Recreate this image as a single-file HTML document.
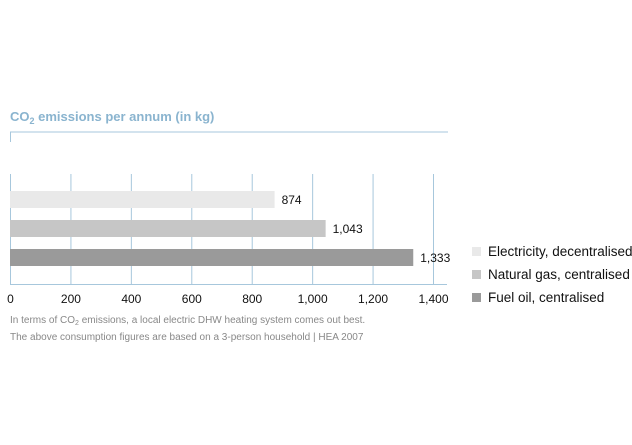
<!DOCTYPE html>
<html><head><meta charset="utf-8"><style>
body{margin:0;background:#fff;width:632px;height:445px;overflow:hidden;font-family:"Liberation Sans",sans-serif}
svg{position:absolute;left:0;top:0}
</style></head><body>
<svg width="632" height="445">
<text x="10" y="121" font-size="13" font-weight="bold" fill="#8ab4cf">CO<tspan font-size="9" dy="3">2</tspan><tspan dy="-3"> emissions per annum (in kg)</tspan></text>
<line x1="10" y1="132" x2="448" y2="132" stroke="#a7c7dc" stroke-width="1"/>
<line x1="10.5" y1="132" x2="10.5" y2="142" stroke="#a7c7dc" stroke-width="1"/>
<g id="grid"></g>
<g id="bars"></g>
<line x1="10" y1="284.5" x2="447" y2="284.5" stroke="#a7c7dc" stroke-width="1"/>
<g id="ticks"></g>
<text x="10" y="323" font-size="10" fill="#888">In terms of CO<tspan font-size="7" dy="2">2</tspan><tspan dy="-2"> emissions, a local electric DHW heating system comes out best.</tspan></text>
<text x="10" y="340" font-size="10" fill="#888">The above consumption figures are based on a 3-person household | HEA 2007</text>
<g id="legend"></g>
</svg>
<script>
const categories=["Electricity, decentralised","Natural gas, centralised","Fuel oil, centralised"];
const values=[874,1043,1333];
const valueLabels=["874","1,043","1,333"];
const tickValues=[0,200,400,600,800,1000,1200,1400];
const tickLabels=["0","200","400","600","800","1,000","1,200","1,400"];
const colors=["#e9e9e9","#c6c6c6","#9a9a9a"];
const NS="http://www.w3.org/2000/svg";
const x=v=>10.5+v*(423/1400);
const barY=i=>191+i*29;
function mk(tag,attrs,parent){const e=document.createElementNS(NS,tag);for(const k in attrs)e.setAttribute(k,attrs[k]);parent.appendChild(e);return e;}
const grid=document.getElementById('grid'),bars=document.getElementById('bars'),ticks=document.getElementById('ticks'),legend=document.getElementById('legend');
tickValues.forEach((t,i)=>{
  const l=mk('line',{x1:x(t),x2:x(t),y1:174,y2:285,stroke:'#a7c7dc','stroke-width':1},grid);
  
  
  const tx=mk('text',{x:x(t),y:303,'font-size':12,'text-anchor':'middle',fill:'#111'},ticks);
  tx.textContent=tickLabels[i];
  
  
});
values.forEach((v,i)=>{
  const r=mk('rect',{x:10,y:barY(i),width:x(v)-10,height:17,fill:colors[i]},bars);
  
  
  const t=mk('text',{x:x(v)+7,y:barY(i)+13,'font-size':12,fill:'#111'},bars);
  t.textContent=valueLabels[i];
  
  
  const s=mk('rect',{x:472,y:247+i*23,width:9,height:9,fill:colors[i]},legend);
  
  
  const lt=mk('text',{x:488,y:256+i*23,'font-size':13.5,fill:'#111'},legend);
  lt.textContent=categories[i];
  
  
});
</script>
</body></html>
